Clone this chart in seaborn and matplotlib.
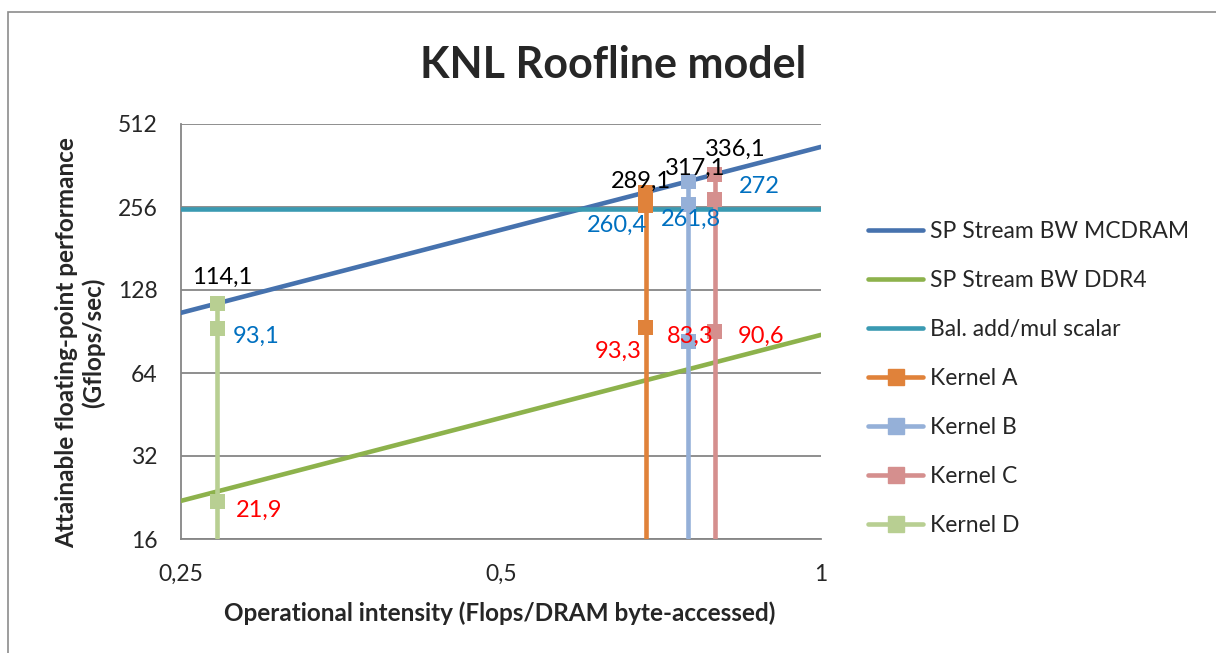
import matplotlib
matplotlib.use("Agg")
import matplotlib.pyplot as plt
from matplotlib.lines import Line2D
from matplotlib.patches import Rectangle
import pandas as pd
import seaborn as sns

# roof lines, values at the two ends of the x range (Gflops/sec)
oi_ends = [0.25, 1.0]
mcdram_roof = [105.8, 423.0]
ddr4_roof = [22.0, 88.0]
scalar_roof = [252.0, 252.0]
roof_names = ["SP Stream BW MCDRAM", "SP Stream BW DDR4", "Bal. add/mul scalar"]

# kernels
kernels = ["Kernel A", "Kernel B", "Kernel C", "Kernel D"]
kernel_oi = [0.684, 0.750, 0.794, 0.2704]
roof_perf = [289.1, 317.1, 336.1, 114.1]    # black labels
mcdram_perf = [260.4, 261.8, 272.0, 93.1]   # blue labels
ddr4_perf = [93.3, 83.3, 90.6, 21.9]        # red labels
label_text = {
    "roof": ["289,1", "317,1", "336,1", "114,1"],
    "mcdram": ["260,4", "261,8", "272", "93,1"],
    "ddr4": ["93,3", "83,3", "90,6", "21,9"],
}

xticks = [0.25, 0.5, 1.0]
xtick_labels = ["0,25", "0,5", "1"]
yticks = [16, 32, 64, 128, 256, 512]

roof_colors = ["#4672AE", "#8DB24C", "#3A9AB2"]
kernel_colors = ["#E0823A", "#95B0D8", "#D58F8E", "#B8CF92"]

sns.set_style("white")
plt.rcParams["font.family"] = ["Lato", "DejaVu Sans"]

fig = plt.figure(figsize=(12.16, 6.53), dpi=100)
W, H = 1216, 653
ax = fig.add_axes([181 / W, 1 - 539 / H, 640 / W, 415 / H])

# outer chart border
fig.patches.append(Rectangle((8 / W, -0.05), 1.0, 1 - 12 / H + 0.05,
                             transform=fig.transFigure, fill=False,
                             edgecolor="#8C8C8C", lw=1.2))

ax.set_xscale("log", base=2)
ax.set_yscale("log", base=2)

for ys, c in zip([mcdram_roof, ddr4_roof, scalar_roof], roof_colors):
    sns.lineplot(x=oi_ends, y=ys, color=c, lw=3.3, ax=ax, zorder=3)

# kernel vertical lines go down to the bottom of the axis
rows = []
for k, x, a, b, c in zip(kernels, kernel_oi, roof_perf, mcdram_perf, ddr4_perf):
    rows.append((k, x, 16.0, False))
    rows.append((k, x, c, True))
    rows.append((k, x, b, True))
    rows.append((k, x, a, True))
kdf = pd.DataFrame(rows, columns=["kernel", "oi", "perf", "point"])
pal = dict(zip(kernels, kernel_colors))
sns.lineplot(data=kdf, x="oi", y="perf", hue="kernel", palette=pal,
             estimator=None, sort=False, lw=3.3, legend=False, ax=ax, zorder=4)
sns.scatterplot(data=kdf[kdf["point"]], x="oi", y="perf", hue="kernel",
                palette=pal, marker="s", s=120, linewidth=0, legend=False,
                ax=ax, zorder=5)

# data labels: offsets in pixels (dx, dy up), alignment
px = 0.72
lbl_layout = {
    "roof": ([(-5, 5), (7, 7), (21, 19), (5, 20)], ["center"] * 4, "black", roof_perf),
    "mcdram": ([(1, -27), (3, -22), (24, 7), (16, -15)],
               ["right", "center", "left", "left"], "#0070C0", mcdram_perf),
    "ddr4": ([(-4, -30), (2, -1), (23, -11), (19, -15)],
             ["right", "center", "left", "left"], "#FF0000", ddr4_perf),
}
for key, (offs, has, col, vals) in lbl_layout.items():
    for i, x in enumerate(kernel_oi):
        ax.annotate(label_text[key][i], (x, vals[i]),
                    xytext=(offs[i][0] * px, offs[i][1] * px),
                    textcoords="offset points", ha=has[i], va="baseline",
                    color=col, fontsize=17, zorder=6)

ax.set_xlim(0.25, 1.0)
ax.set_ylim(16, 512)
ax.set_xticks(xticks)
ax.set_xticklabels(xtick_labels)
ax.set_yticks(yticks)
ax.set_yticklabels([str(v) for v in yticks])
ax.minorticks_off()
ax.set_xlabel("")
ax.set_ylabel("")
ax.yaxis.grid(True, color="#868686", lw=1.3)
ax.xaxis.grid(False)
for s in ["top", "right"]:
    ax.spines[s].set_visible(False)
for s in ["left", "bottom"]:
    ax.spines[s].set_color("#868686")
    ax.spines[s].set_linewidth(1.3)
ax.tick_params(axis="y", direction="out", length=6, width=1.3, color="#868686",
               pad=11, labelsize=16.5)
ax.tick_params(axis="x", direction="out", length=6, width=1.3, color="#868686",
               pad=12, labelsize=16.5)

fig.text(613 / W, 1 - 65 / H, "KNL Roofline model", ha="center", va="center",
         fontsize=31, fontweight="bold")
fig.text(500 / W, 1 - 613 / H, "Operational intensity (Flops/DRAM byte-accessed)",
         ha="center", va="center", fontsize=17.5, fontweight="bold")
fig.text(80 / W, 1 - 343 / H, "Attainable floating-point performance\n(Gflops/sec)",
         ha="center", va="center", rotation=90, fontsize=17.5,
         fontweight="bold", multialignment="center", linespacing=1.15)

handles = [Line2D([], [], color=c, lw=3.3) for c in roof_colors]
handles += [Line2D([], [], color=c, lw=3.3, marker="s", markersize=11)
            for c in kernel_colors]
fig.legend(handles, roof_names + kernels, loc="upper left",
           bbox_to_anchor=(868 / W, 1 - 221 / H), bbox_transform=fig.transFigure,
           frameon=False, fontsize=16.5, handlelength=2.4, handletextpad=0.3,
           labelspacing=1.22, borderpad=0, borderaxespad=0)

fig.savefig("out.png", dpi=100)
